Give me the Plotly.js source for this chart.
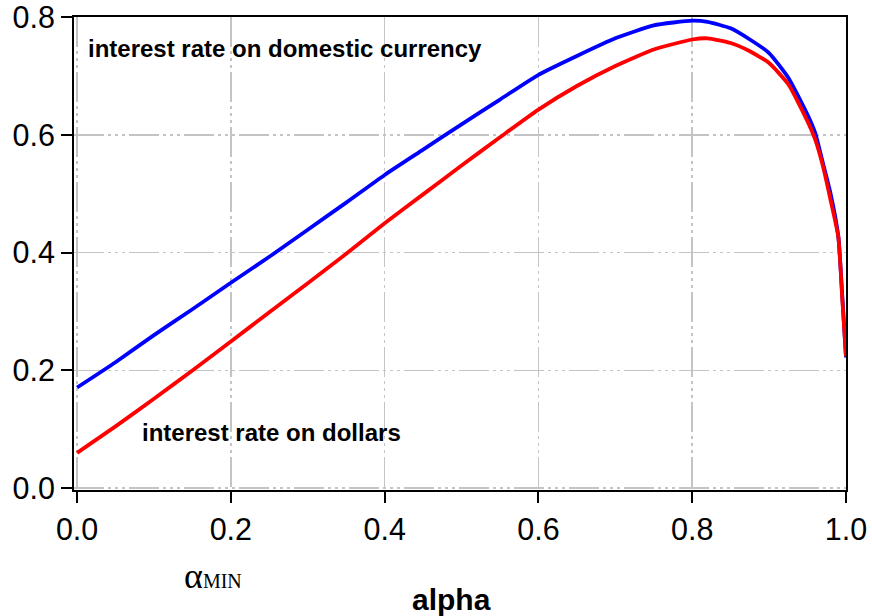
<!DOCTYPE html>
<html>
<head>
<meta charset="utf-8">
<script src="https://cdn.plot.ly/plotly-3.0.1.min.js"></script>
<style>html,body{margin:0;padding:0;background:#fff;}#chart{width:872px;height:616px;}</style>
</head>
<body>
<div id="chart"></div>
<script>
const alpha = [0,0.05,0.1,0.15,0.2,0.25,0.3,0.35,0.4,0.45,0.5,0.55,0.6,0.65,0.7,0.75,0.8,0.82,0.85,0.875,0.9,0.925,0.95,0.96,0.97,0.98,0.99,0.995,1.0];
const rateDomestic = [0.171,0.214,0.260,0.304,0.349,0.393,0.439,0.485,0.532,0.575,0.618,0.660,0.702,0.734,0.764,0.786,0.794,0.792,0.781,0.762,0.739,0.697,0.634,0.603,0.552,0.500,0.428,0.330,0.222];
const rateDollars = [0.060,0.105,0.152,0.200,0.249,0.299,0.348,0.398,0.450,0.499,0.548,0.596,0.643,0.683,0.717,0.745,0.762,0.764,0.756,0.742,0.722,0.686,0.623,0.592,0.547,0.489,0.427,0.325,0.224];
const xTickVals = [0,0.2,0.4,0.6,0.8,1.0];
const xTickText = ['0.0','0.2','0.4','0.6','0.8','1.0'];
const yTickVals = [0,0.2,0.4,0.6,0.8];
const yTickText = ['0.0','0.2','0.4','0.6','0.8'];
const labelDomestic = 'interest rate on domestic currency';
const labelDollars = 'interest rate on dollars';
const xTitle = 'alpha';

const FONT = 'Liberation Sans, Arial, sans-serif';
const gridDash = '30px,4px,3px,4px,3px,4px,3px,4px';

const traces = [
  {x: alpha, y: rateDomestic, mode: 'lines', line: {color: '#0000ff', width: 3.8, shape: 'spline', smoothing: 0.5}, hoverinfo: 'skip'},
  {x: alpha, y: rateDollars, mode: 'lines', line: {color: '#ff0000', width: 3.8, shape: 'spline', smoothing: 0.5}, hoverinfo: 'skip'}
];

const layout = {
  width: 872, height: 616,
  margin: {l: 74, r: 26, t: 17, b: 126, pad: 0},
  paper_bgcolor: '#ffffff', plot_bgcolor: '#ffffff',
  showlegend: false,
  font: {family: FONT, color: '#000000'},
  xaxis: {
    range: [-0.004, 1.0], tickvals: xTickVals, ticktext: xTickText,
    tickfont: {family: FONT, size: 30.5, color: '#000'},
    ticks: 'outside', ticklen: 11, tickwidth: 2, tickcolor: '#000',
    ticklabeloverflow: 'allow',
    showline: true, linewidth: 2, linecolor: '#000', mirror: true,
    showgrid: true, gridcolor: '#c4c4c4', gridwidth: 1.5, griddash: gridDash,
    zeroline: false
  },
  yaxis: {
    range: [-0.003, 0.8002], tickvals: yTickVals, ticktext: yTickText,
    tickfont: {family: FONT, size: 30.5, color: '#000'},
    ticks: 'outside', ticklen: 11, tickwidth: 2, tickcolor: '#000',
    ticklabeloverflow: 'allow',
    showline: true, linewidth: 2, linecolor: '#000', mirror: true,
    showgrid: true, gridcolor: '#c4c4c4', gridwidth: 1.5, griddash: gridDash,
    zeroline: false
  },
  annotations: [
    {x: 0.011, y: 0.747, xref: 'x', yref: 'y', xanchor: 'left', yanchor: 'middle', showarrow: false,
     text: labelDomestic, font: {family: FONT, size: 24, weight: 700, color: '#000'}},
    {x: 0.082, y: 0.095, xref: 'x', yref: 'y', xanchor: 'left', yanchor: 'middle', showarrow: false,
     text: labelDollars, font: {family: FONT, size: 24, weight: 700, color: '#000'}},
    {x: 0.137, y: -0.182, xref: 'x', yref: 'paper', xanchor: 'left', yanchor: 'middle', showarrow: false,
     text: "<span style='font-size:36px'>α</span><span style='font-size:20px'>MIN</span>",
     font: {family: 'Liberation Serif, Times New Roman, serif', size: 20, color: '#000'}},
    {x: 0.487, y: -0.232, xref: 'x', yref: 'paper', xanchor: 'center', yanchor: 'middle', showarrow: false,
     text: xTitle, font: {family: FONT, size: 30, weight: 700, color: '#000'}}
  ]
};

Plotly.newPlot('chart', traces, layout, {staticPlot: true, displayModeBar: false});
</script>
</body>
</html>
